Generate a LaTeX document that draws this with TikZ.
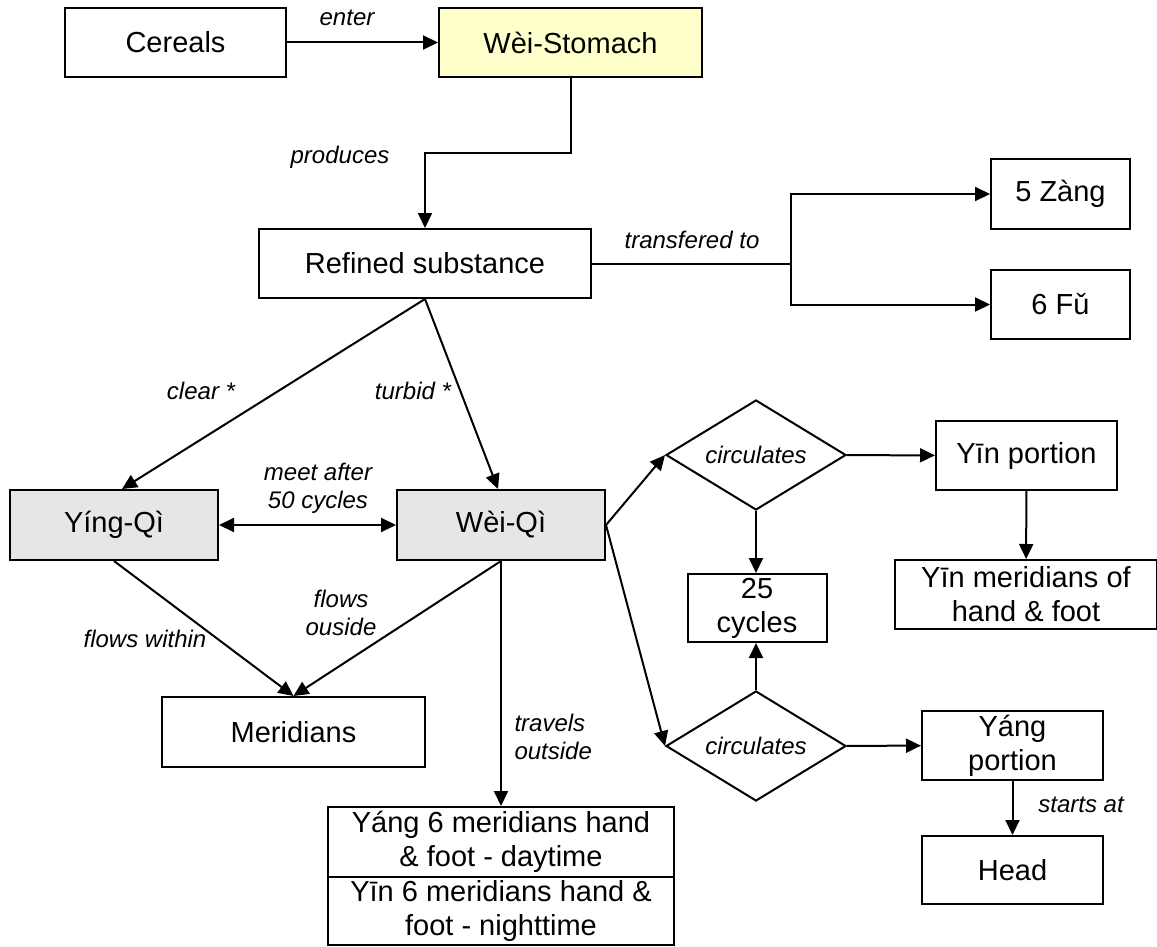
\documentclass[tikz,border=0pt]{standalone}
\usepackage{fontspec}
\setmainfont{Liberation Sans}
\usetikzlibrary{arrows.meta}
\usetikzlibrary{shapes.geometric}
\usetikzlibrary{positioning}

\definecolor{stomachfill}{HTML}{FFFFCC}
\definecolor{qifill}{HTML}{E6E6E6}

\tikzset{
  box/.style={draw, line width=2pt, inner sep=0pt, align=center,
    font=\fontsize{29}{34}\selectfont},
  dia/.style={diamond, draw, line width=2pt, aspect=1.6, inner sep=0pt,
    minimum width=180pt, minimum height=110pt,
    font=\itshape\fontsize{24}{28}\selectfont},
  lbl/.style={font=\itshape\fontsize{24}{28}\selectfont, align=center},
  link/.style={line width=2pt},
  flow/.style={link, -{Triangle[length=15pt,width=14pt]}},
  flowboth/.style={link, {Triangle[length=15pt,width=14pt]}-{Triangle[length=15pt,width=14pt]}},
}

\begin{document}
\begin{tikzpicture}[x=1pt,y=-1pt]
  \useasboundingbox (0,0) rectangle (1157,947);
  \begin{scope}[every node/.style={box}]
    \node[minimum width=221pt, minimum height=69pt] (cereals) at (175.5,42.5) {Cereals};
    \node[minimum width=263pt, minimum height=69pt, fill=stomachfill] (stomach) at (570.5,42.5) {Wèi-Stomach};
    \node[minimum width=332pt, minimum height=69pt] (refined) at (425,263.5) {Refined substance};
    \node[minimum width=139pt, minimum height=70pt] (zang) at (1060.5,194) {5 Zàng};
    \node[minimum width=139pt, minimum height=69pt] (fu) at (1060.5,304.5) {6 Fǔ};
    \node[minimum width=208pt, minimum height=70pt, fill=qifill] (yingqi) at (114,525) {Yíng-Qì};
    \node[minimum width=208pt, minimum height=70pt, fill=qifill] (weiqi) at (501,525) {Wèi-Qì};
    \node[minimum width=263pt, minimum height=70pt] (meridians) at (293.5,732) {Meridians};
    \node[minimum width=346pt, minimum height=70pt] (yang6) at (501,842) {Yáng 6 meridians hand\\\& foot - daytime};
    \node[minimum width=346pt, minimum height=68pt] (yin6) at (501,911) {Yīn 6 meridians hand \&\\foot - nighttime};
    \node[minimum width=181pt, minimum height=69pt] (yinpart) at (1026.5,455.5) {Yīn portion};
    \node[minimum width=262pt, minimum height=69pt] (yinmer) at (1026,594.5) {Yīn meridians of\\hand \& foot};
    \node[minimum width=139pt, minimum height=68pt] (cycles) at (757,608) {25\\cycles};
    \node[minimum width=181pt, minimum height=69pt] (yangpart) at (1012.5,745.5) {Yáng\\portion};
    \node[minimum width=181pt, minimum height=68pt] (head) at (1012.5,870) {Head};
  \end{scope}
  \node[dia] (circ1) at (756,455) {circulates};
  \node[dia] (circ2) at (756,746) {circulates};

  % labels on the connectors
  \node[lbl] (enter) at (347,18) {enter};
  \node[lbl] (produces) at (340,157) {produces};
  \node[lbl] (transfer) at (692,240) {transfered to};
  \node[lbl] (clear) at (201,391) {clear *};
  \node[lbl] (turbid) at (413,391) {turbid *};
  \node[lbl] (meet) at (318,488) {meet after\\50 cycles};
  \node[lbl] (within) at (145,639) {flows within};
  \node[lbl] (ouside) at (341,613) {flows\\ouside};
  \node[lbl, align=left, anchor=west] (travels) at (511,737) {travels\\outside};
  \node[lbl] (starts) at (1081,805) {starts at};

  \coordinate (bend) at (570.5,153);
  \coordinate (split) at (791,263.5);

  \draw[flow] (cereals) -- (stomach);
  \draw[flow] (stomach.south) -- (bend) -| (refined.north);
  \draw[link] (refined.east) -- (split);
  \draw[flow] (split) |- (zang.west);
  \draw[flow] (split) |- (fu.west);
  \draw[flow] (refined.south) -- ([xshift=8pt]yingqi.north);
  \draw[flow] (refined.south) -- ([xshift=-3pt]weiqi.north);
  \draw[flowboth] (yingqi) -- (weiqi);
  \draw[flow] (yingqi.south) -- (meridians.north);
  \draw[flow] (weiqi.south) -- (meridians.north);
  \draw[flow] (weiqi.south) -- (yang6.north);
  \draw[flow] (weiqi.east) -- (circ1.west);
  \draw[flow] (weiqi.east) -- (circ2.west);
  \draw[flow] (circ1) -- (yinpart);
  \draw[flow] (yinpart) -- (yinmer);
  \draw[flow] (circ1.south) -- (circ1.south |- cycles.north);
  \draw[flow] (circ2.north) -- (circ2.north |- cycles.south);
  \draw[flow] (circ2) -- (yangpart);
  \draw[flow] (yangpart) -- (head);
\end{tikzpicture}
\end{document}
